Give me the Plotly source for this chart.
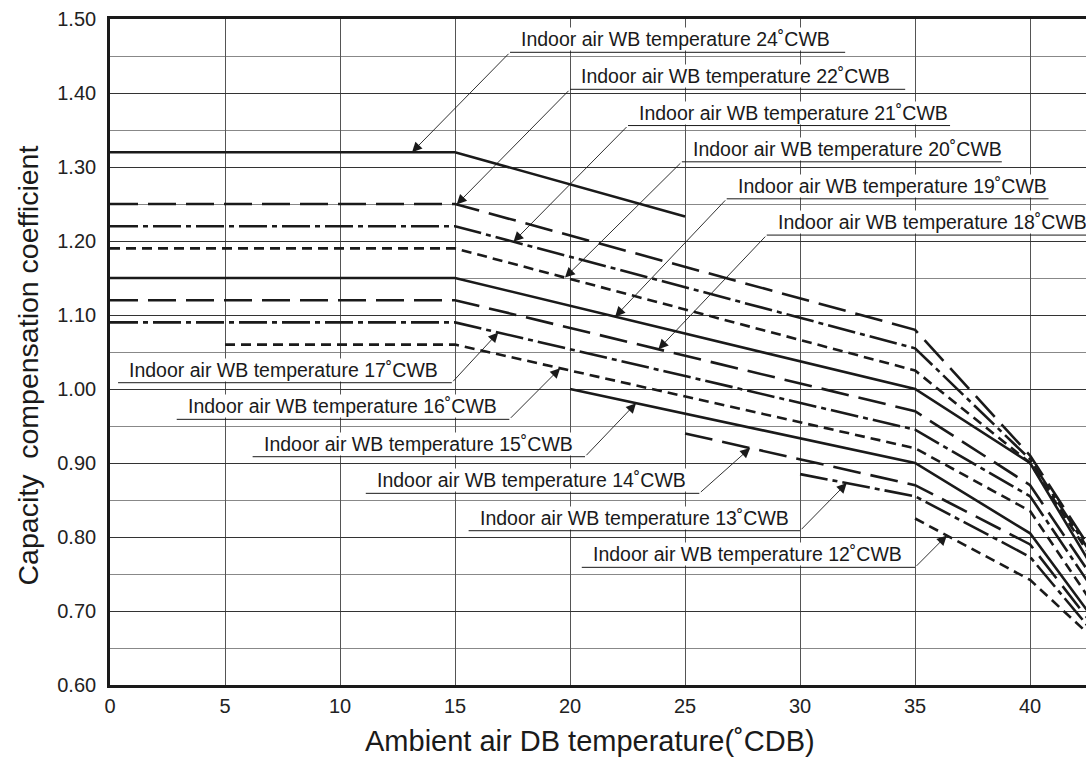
import numpy as np
import plotly.graph_objects as go

# Ambient DB temperature (x) and capacity coefficient (y) per indoor WB curve
x_24 = [0, 15, 25]
y_24 = [1.32, 1.32, 1.233]
x_22 = [0, 15, 35, 40, 42.5]
y_22 = [1.25, 1.25, 1.08, 0.91, 0.79]
x_21 = [0, 15, 35, 40, 42.5]
y_21 = [1.22, 1.22, 1.055, 0.905, 0.785]
x_20 = [0, 15, 35, 40, 42.5]
y_20 = [1.19, 1.19, 1.025, 0.90, 0.78]
x_19 = [0, 15, 35, 40, 42.5]
y_19 = [1.15, 1.15, 1.00, 0.90, 0.77]
x_18 = [0, 15, 35, 40, 42.5]
y_18 = [1.12, 1.12, 0.97, 0.87, 0.755]
x_17 = [0, 15, 35, 40, 42.5]
y_17 = [1.09, 1.09, 0.945, 0.855, 0.74]
x_16 = [5, 15, 35, 40, 42.5]
y_16 = [1.06, 1.06, 0.92, 0.835, 0.72]
x_15 = [20, 35, 40, 42.5]
y_15 = [1.00, 0.90, 0.805, 0.70]
x_14 = [25, 35, 40, 42.5]
y_14 = [0.94, 0.87, 0.79, 0.69]
x_13 = [30, 35, 40, 42.5]
y_13 = [0.885, 0.855, 0.773, 0.68]
x_12 = [35, 40, 42.5]
y_12 = [0.825, 0.742, 0.67]

wb_temps = [24, 22, 21, 20, 19, 18, 17, 16, 15, 14, 13, 12]
x_ticks = [0, 5, 10, 15, 20, 25, 30, 35, 40]
y_ticks = [0.60, 0.70, 0.80, 0.90, 1.00, 1.10, 1.20, 1.30, 1.40, 1.50]

series_x = {24: x_24, 22: x_22, 21: x_21, 20: x_20, 19: x_19, 18: x_18,
            17: x_17, 16: x_16, 15: x_15, 14: x_14, 13: x_13, 12: x_12}
series_y = {24: y_24, 22: y_22, 21: y_21, 20: y_20, 19: y_19, 18: y_18,
            17: y_17, 16: y_16, 15: y_15, 14: y_14, 13: y_13, 12: y_12}

# Line styles cycle: solid, long dash, dash-dot, short dash
SOLID = "solid"
LONG = "28px,10px"
DASHDOT = "28px,5px,5px,5px"
SHORT = "10px,6px"
styles = {24: SOLID, 22: LONG, 21: DASHDOT, 20: SHORT, 19: SOLID, 18: LONG,
          17: DASHDOT, 16: SHORT, 15: SOLID, 14: LONG, 13: DASHDOT, 12: SHORT}

# Callout placement: underline (x0, x1, y), leader side, and x where the arrow meets the curve
callouts = {
    24: (17.39, 31.96, 1.455, "left", 13.13),
    22: (20.00, 34.57, 1.405, "left", 15.07),
    21: (22.52, 36.52, 1.356, "left", 17.54),
    20: (24.86, 38.77, 1.307, "left", 19.78),
    19: (26.81, 40.80, 1.257, "left", 21.96),
    18: (28.55, 42.60, 1.208, "left", 23.84),
    17: (0.35, 14.86, 1.0085, "right", 16.88),
    16: (2.90, 17.36, 0.959, "right", 19.57),
    15: (6.20, 20.65, 0.9085, "right", 22.87),
    14: (11.12, 25.62, 0.859, "right", 27.83),
    13: (15.59, 30.00, 0.8085, "right", 32.03),
    12: (20.51, 35.00, 0.759, "right", 36.38),
}

FONT = "Liberation Sans, Arial, Helvetica, sans-serif"
INK = "#1a1a1a"

fig = go.Figure()
for t in wb_temps:
    fig.add_trace(go.Scatter(
        x=series_x[t], y=series_y[t], mode="lines",
        line=dict(color=INK, width=2.6, dash=styles[t]),
        name=f"{t}˚CWB", hoverinfo="skip",
    ))

shapes = []
annotations = []
for t in wb_temps:
    x0, x1, uy, side, tip_x = callouts[t]
    tip_y = float(np.interp(tip_x, series_x[t], series_y[t]))
    annotations.append(dict(
        x=x0 + 0.43, y=uy, xref="x", yref="y", xanchor="left", yanchor="bottom",
        text=f"Indoor air WB temperature {t}˚CWB", showarrow=False,
        font=dict(family=FONT, size=19.5, color=INK),
        bgcolor="white", borderpad=0, yshift=1,
    ))
    shapes.append(dict(type="line", xref="x", yref="y", x0=x0, x1=x1, y0=uy, y1=uy,
                       line=dict(color=INK, width=1), layer="above"))
    tail_x = x0 if side == "left" else x1
    annotations.append(dict(
        x=tip_x, y=tip_y, ax=tail_x, ay=uy, xref="x", yref="y", axref="x", ayref="y",
        text="", showarrow=True, arrowhead=2, arrowsize=2.2, arrowwidth=0.9,
        arrowcolor=INK, standoff=0, startstandoff=0,
    ))

# Axis titles
annotations.append(dict(
    x=(590 - 110) / 976, y=-(741 - 685) / 666, xref="paper", yref="paper",
    xanchor="center", yanchor="middle",
    text="Ambient air DB temperature(˚CDB)", showarrow=False,
    font=dict(family=FONT, size=29, color=INK),
))
annotations.append(dict(
    x=-82.5 / 976, y=(685 - 366) / 666, xref="paper", yref="paper",
    xanchor="center", yanchor="middle",
    text="Capacity  compensation coefficient", showarrow=False, textangle=-90,
    font=dict(family=FONT, size=28.5, color=INK),
))

fig.update_layout(
    width=1086, height=759,
    margin=dict(l=110, r=0, t=19, b=74),
    plot_bgcolor="white", paper_bgcolor="white",
    showlegend=False,
    font=dict(family=FONT, color=INK),
    shapes=shapes, annotations=annotations,
    xaxis=dict(
        range=[0, 42.43], tickvals=x_ticks, ticktext=[str(v) for v in x_ticks],
        showgrid=True, gridcolor="#555", gridwidth=1, zeroline=False,
        showline=True, linecolor=INK, linewidth=2.6, mirror=True,
        ticks="", ticklabelstandoff=1,
        tickfont=dict(family=FONT, size=20, color="#222"),
    ),
    yaxis=dict(
        range=[0.6, 1.5], tickvals=y_ticks, ticktext=[f"{v:.2f}" for v in y_ticks],
        showgrid=True, gridcolor="#333", gridwidth=1, zeroline=False,
        minor=dict(dtick=0.05, tick0=0.6, showgrid=True, gridcolor="#888", gridwidth=1),
        showline=True, linecolor=INK, linewidth=2.6,
        ticks="", ticklabelstandoff=7,
        tickfont=dict(family=FONT, size=20, color="#222"),
    ),
)

fig.write_html("out.html")
